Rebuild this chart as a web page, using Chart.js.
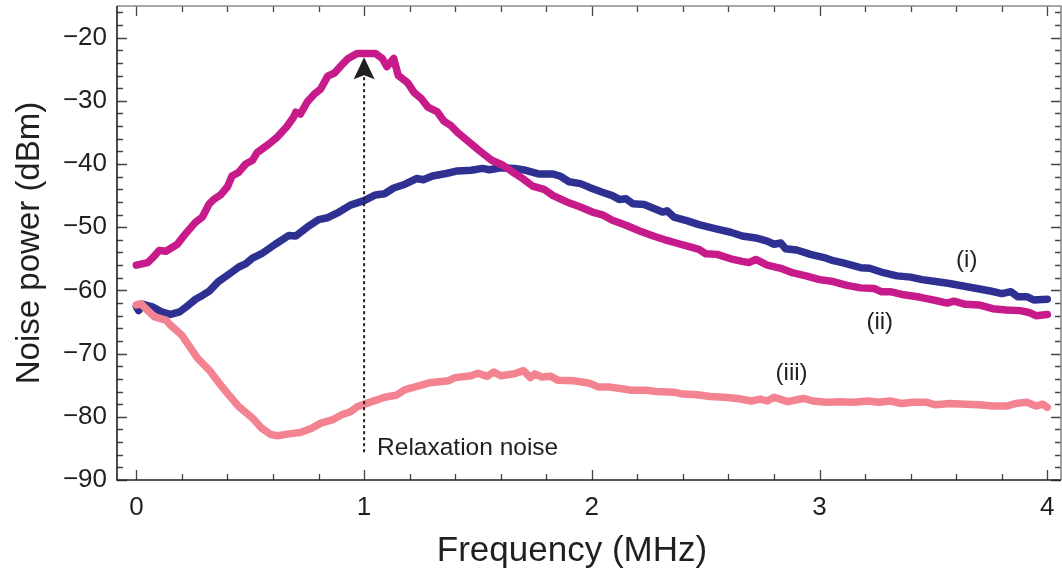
<!DOCTYPE html>
<html>
<head>
<meta charset="utf-8">
<script src="https://cdn.jsdelivr.net/npm/chart.js@4"></script>
<style>
  html, body { margin: 0; padding: 0; background: #ffffff; }
  #wrap { width: 1062px; height: 579px; }
</style>
</head>
<body>
<div id="wrap"><canvas id="noiseChart" width="1062" height="579"></canvas></div>
<script>
// Noise power spectra (dBm) versus frequency (MHz)

// (i)
const freqI = [0.00, 0.01, 0.03, 0.07, 0.11, 0.15, 0.19, 0.23, 0.26, 0.29, 0.32, 0.36, 0.40, 0.45, 0.48, 0.51, 0.55, 0.61, 0.67, 0.70,
  0.75, 0.80, 0.84, 0.89, 0.94, 1.00, 1.05, 1.09, 1.13, 1.18, 1.23, 1.26, 1.30, 1.36, 1.41, 1.47, 1.52, 1.55, 1.60, 1.66,
  1.71, 1.77, 1.83, 1.86, 1.90, 1.95, 1.99, 2.04, 2.09, 2.12, 2.15, 2.18, 2.23, 2.27, 2.31, 2.33, 2.36, 2.42, 2.47, 2.55,
  2.61, 2.66, 2.72, 2.77, 2.80, 2.83, 2.85, 2.90, 2.96, 3.02, 3.06, 3.10, 3.18, 3.22, 3.28, 3.34, 3.40, 3.45, 3.51, 3.57,
  3.63, 3.69, 3.75, 3.80, 3.84, 3.87, 3.91, 3.94, 4.00];
const powerI = [-62.6, -63.2, -62.2, -62.6, -63.4, -63.8, -63.4, -62.3, -61.4, -60.8, -60.1, -58.6, -57.6, -56.3, -55.8, -54.9, -54.2, -52.7, -51.3, -51.4,
  -50.0, -48.8, -48.5, -47.6, -46.5, -45.8, -44.9, -44.7, -43.8, -43.2, -42.3, -42.5, -41.9, -41.5, -41.1, -41.0, -40.7, -40.9, -40.6, -40.7,
  -41.0, -41.6, -41.6, -41.9, -42.8, -43.1, -43.7, -44.4, -45.0, -45.6, -45.5, -46.3, -46.4, -47.0, -47.6, -47.4, -48.4, -49.0, -49.6, -50.3,
  -50.8, -51.4, -51.7, -52.2, -52.7, -52.5, -53.4, -53.6, -54.3, -54.8, -55.3, -55.6, -56.4, -56.5, -57.2, -57.7, -57.9, -58.3, -58.6, -58.9,
  -59.3, -59.7, -60.1, -60.5, -60.2, -61.0, -61.0, -61.5, -61.4];

// (ii)
const freqII = [0.00, 0.05, 0.07, 0.10, 0.13, 0.18, 0.21, 0.26, 0.29, 0.32, 0.34, 0.37, 0.40, 0.42, 0.45, 0.48, 0.51, 0.53, 0.58, 0.62,
  0.66, 0.69, 0.70, 0.72, 0.75, 0.78, 0.81, 0.84, 0.87, 0.90, 0.93, 0.97, 1.05, 1.08, 1.10, 1.13, 1.15, 1.19, 1.22, 1.25,
  1.28, 1.32, 1.35, 1.38, 1.41, 1.46, 1.51, 1.56, 1.61, 1.65, 1.70, 1.74, 1.79, 1.83, 1.89, 1.95, 2.01, 2.05, 2.09, 2.15,
  2.21, 2.27, 2.33, 2.37, 2.42, 2.47, 2.50, 2.55, 2.61, 2.66, 2.69, 2.72, 2.77, 2.83, 2.88, 2.94, 3.00, 3.06, 3.12, 3.18,
  3.24, 3.27, 3.31, 3.37, 3.43, 3.47, 3.51, 3.56, 3.59, 3.64, 3.70, 3.76, 3.82, 3.88, 3.92, 3.95, 4.00];
const powerII = [-56.0, -55.6, -54.9, -53.7, -53.8, -52.7, -51.3, -49.2, -48.4, -46.3, -45.6, -44.9, -43.6, -41.9, -41.3, -40.0, -39.4, -38.2, -36.9, -35.7,
  -34.1, -32.6, -31.8, -32.1, -30.2, -29.0, -28.1, -26.1, -25.6, -24.4, -23.3, -22.5, -22.5, -23.3, -24.6, -23.3, -26.0, -27.1, -28.7, -29.6,
  -31.0, -31.7, -33.2, -33.9, -35.0, -36.5, -38.0, -39.4, -40.2, -41.2, -42.4, -43.5, -44.0, -45.0, -46.0, -46.8, -47.7, -48.1, -48.9, -49.7,
  -50.6, -51.4, -52.1, -52.5, -53.0, -53.5, -54.2, -54.3, -55.0, -55.4, -55.6, -55.1, -56.0, -56.5, -57.2, -57.7, -58.3, -58.6, -59.2, -59.6,
  -59.7, -60.2, -60.2, -60.7, -61.0, -61.3, -61.6, -62.0, -61.7, -62.2, -62.3, -62.9, -63.1, -63.2, -63.5, -64.0, -63.8];

// (iii)
const freqIII = [0.00, 0.02, 0.05, 0.08, 0.13, 0.15, 0.20, 0.23, 0.27, 0.32, 0.36, 0.40, 0.45, 0.51, 0.55, 0.59, 0.62, 0.67, 0.72, 0.77,
  0.81, 0.86, 0.90, 0.94, 0.97, 1.00, 1.05, 1.09, 1.14, 1.18, 1.22, 1.29, 1.37, 1.40, 1.47, 1.50, 1.54, 1.57, 1.60, 1.66,
  1.70, 1.73, 1.75, 1.78, 1.82, 1.85, 1.92, 1.99, 2.03, 2.08, 2.14, 2.17, 2.24, 2.28, 2.36, 2.40, 2.46, 2.52, 2.58, 2.64,
  2.70, 2.74, 2.77, 2.80, 2.86, 2.90, 2.93, 2.97, 3.03, 3.09, 3.15, 3.21, 3.26, 3.31, 3.36, 3.41, 3.47, 3.51, 3.57, 3.64,
  3.70, 3.76, 3.82, 3.86, 3.91, 3.95, 3.98, 4.00];
const powerIII = [-62.3, -62.1, -63.2, -64.2, -64.7, -65.5, -67.1, -68.7, -70.8, -72.6, -74.5, -76.3, -78.4, -80.2, -81.8, -82.8, -83.0, -82.7, -82.5, -81.8,
  -81.0, -80.5, -79.7, -79.2, -78.4, -78.0, -77.4, -76.9, -76.6, -75.7, -75.3, -74.6, -74.3, -73.8, -73.5, -73.1, -73.6, -72.9, -73.5, -73.2,
  -72.7, -73.8, -73.2, -73.7, -73.6, -74.2, -74.3, -74.7, -75.3, -75.3, -75.6, -75.8, -75.8, -76.0, -76.1, -76.4, -76.5, -76.8, -76.9, -77.1,
  -77.5, -77.2, -77.5, -76.9, -77.6, -77.3, -77.1, -77.5, -77.7, -77.6, -77.7, -77.5, -77.7, -77.5, -77.9, -77.7, -77.7, -78.1, -77.9, -78.0,
  -78.1, -78.3, -78.3, -77.9, -77.7, -78.3, -78.0, -78.5];

// Axis ticks
const xTicks = [0, 1, 2, 3, 4];
const yTicks = [-90, -80, -70, -60, -50, -40, -30, -20];
const xMinorStep = 0.2;
const yMinorStep = 2;

// Curve labels
const labelText = ['(i)', '(ii)', '(iii)', 'Relaxation noise'];
const labelFreq = [3.646, 3.264, 2.877, 1.057];
const labelPower = [-55.2, -65.0, -73.1, -84.9];

// Relaxation-oscillation marker
const markerFreq = 1.0;
const markerFrom = -85.6;
const markerTo = -23.1;

const FONT = '"Liberation Sans", Arial, Helvetica, sans-serif';
const INK = '#231f20';

function pairs(xs, ys) { return xs.map((v, i) => ({ x: v, y: ys[i] })); }

const framePlugin = {
  id: 'frameTicks',
  afterDatasetsDraw(chart) {
    const { ctx, scales: { x, y } } = chart;
    const px = x.getPixelForValue(markerFreq);
    const y0 = y.getPixelForValue(markerFrom);
    const tip = y.getPixelForValue(markerTo);
    const base = tip + 22;
    ctx.save();
    ctx.strokeStyle = INK;
    ctx.lineWidth = 2;
    ctx.setLineDash([3, 3]);
    ctx.beginPath();
    ctx.moveTo(px, y0);
    ctx.lineTo(px, base - 2);
    ctx.stroke();
    ctx.setLineDash([]);
    ctx.fillStyle = INK;
    ctx.beginPath();
    ctx.moveTo(px, tip);
    ctx.lineTo(px + 10.5, base);
    ctx.lineTo(px, base - 4);
    ctx.lineTo(px - 10.5, base);
    ctx.closePath();
    ctx.fill();

    // curve labels
    ctx.fillStyle = INK;
    ctx.textBaseline = 'middle';
    labelText.forEach((t, i) => {
      ctx.font = (i === 3 ? '24.5px ' : '24px ') + FONT;
      ctx.textAlign = i === 3 ? 'left' : 'center';
      ctx.fillText(t, x.getPixelForValue(labelFreq[i]), y.getPixelForValue(labelPower[i]));
    });
    ctx.restore();
  },
  afterDraw(chart) {
    const { ctx, chartArea: a, scales: { x, y } } = chart;
    ctx.save();
    // tick marks on all four sides, pointing inwards
    ctx.strokeStyle = '#444';
    ctx.lineWidth = 1.3;
    const nX = Math.round((xTicks[xTicks.length - 1] - xTicks[0]) / xMinorStep);
    for (let i = 0; i <= nX; i++) {
      const v = xTicks[0] + i * xMinorStep;
      const major = xTicks.some(t => Math.abs(t - v) < 1e-6);
      const len = major ? 10 : 6;
      const p = Math.round(x.getPixelForValue(v)) + 0.5;
      ctx.beginPath();
      ctx.moveTo(p, a.bottom); ctx.lineTo(p, a.bottom - len);
      ctx.moveTo(p, a.top); ctx.lineTo(p, a.top + len);
      ctx.stroke();
    }
    for (let v = yTicks[0]; v < y.max; v += yMinorStep) {
      const major = yTicks.includes(v);
      const len = major ? 10 : 6;
      const p = Math.round(y.getPixelForValue(v)) + 0.5;
      ctx.beginPath();
      ctx.moveTo(a.left, p); ctx.lineTo(a.left + len, p);
      ctx.moveTo(a.right, p); ctx.lineTo(a.right - len, p);
      ctx.stroke();
    }
    // frame
    ctx.lineWidth = 1.6;
    ctx.strokeStyle = '#8a8a8a';
    ctx.beginPath();
    ctx.moveTo(a.left, a.top); ctx.lineTo(a.right, a.top); ctx.lineTo(a.right, a.bottom);
    ctx.stroke();
    ctx.strokeStyle = INK;
    ctx.beginPath();
    ctx.moveTo(a.left, a.top); ctx.lineTo(a.left, a.bottom); ctx.lineTo(a.right, a.bottom);
    ctx.stroke();

    // axis titles
    ctx.fillStyle = INK;
    ctx.textAlign = 'center';
    ctx.textBaseline = 'middle';
    ctx.font = '35px ' + FONT;
    ctx.fillText('Frequency (MHz)', 572, 551);
    ctx.font = '33px ' + FONT;
    ctx.translate(30, (a.top + a.bottom) / 2);
    ctx.rotate(-Math.PI / 2);
    ctx.fillText('Noise power (dBm)', 0, 0);
    ctx.restore();
  }
};

const lineStyle = { borderWidth: 7.5, pointRadius: 0, tension: 0, borderJoinStyle: 'round', borderCapStyle: 'round', fill: false };

new Chart(document.getElementById('noiseChart'), {
  type: 'line',
  data: {
    datasets: [
      Object.assign({ label: '(i)', data: pairs(freqI, powerI), borderColor: '#2e3192', order: 3 }, lineStyle),
      Object.assign({ label: '(ii)', data: pairs(freqII, powerII), borderColor: '#c71b8b', order: 2 }, lineStyle),
      Object.assign({ label: '(iii)', data: pairs(freqIII, powerIII), borderColor: '#f38391', order: 1 }, lineStyle)
    ]
  },
  options: {
    responsive: false,
    animation: false,
    devicePixelRatio: 1,
    layout: { padding: { top: 6, right: 1, left: 0, bottom: 0 } },
    plugins: { legend: { display: false }, tooltip: { enabled: false } },
    scales: {
      x: {
        type: 'linear',
        min: -0.085,
        max: 4.06,
        afterBuildTicks: s => { s.ticks = xTicks.map(v => ({ value: v })); },
        afterFit: s => { s.height = 99; s.paddingLeft = 0; s.paddingRight = 0; },
        grid: { display: false, drawTicks: false },
        border: { display: false },
        ticks: { color: INK, font: { family: FONT, size: 26 }, padding: 12, maxRotation: 0, autoSkip: false, callback: v => String(v) }
      },
      y: {
        type: 'linear',
        min: -90,
        max: -15,
        afterBuildTicks: s => { s.ticks = yTicks.map(v => ({ value: v })); },
        afterFit: s => { s.width = 117; s.paddingTop = 0; s.paddingBottom = 0; },
        grid: { display: false, drawTicks: false },
        border: { display: false },
        ticks: { color: INK, font: { family: FONT, size: 26 }, padding: 10, autoSkip: false, callback: v => String(v).replace('-', '\u2212') }
      }
    }
  },
  plugins: [framePlugin]
});
</script>
</body>
</html>
